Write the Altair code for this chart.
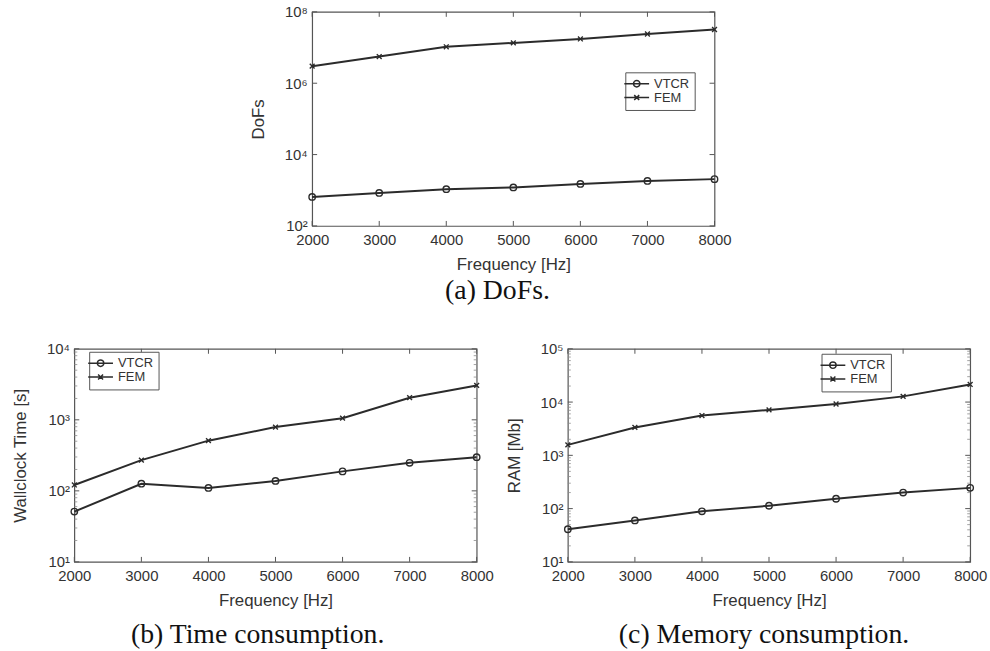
import altair as alt
import pandas as pd

# ---- data -------------------------------------------------------------
freq = [2000, 3000, 4000, 5000, 6000, 7000, 8000]
series = ["VTCR", "FEM"]

dofs_vtcr = [650, 840, 1070, 1200, 1500, 1820, 2050]
dofs_fem = [3.0e6, 5.6e6, 1.05e7, 1.35e7, 1.74e7, 2.4e7, 3.2e7]

time_vtcr = [51, 126, 110, 138, 188, 248, 298]
time_fem = [121, 271, 509, 790, 1055, 2050, 3050]

ram_vtcr = [41, 60, 89, 113, 153, 200, 245]
ram_fem = [1570, 3340, 5590, 7130, 9200, 12800, 21400]

x_ticks = [2000, 3000, 4000, 5000, 6000, 7000, 8000]
dofs_decades = [1e2, 1e4, 1e6, 1e8]
time_decades = [1e1, 1e2, 1e3, 1e4]
ram_decades = [1e1, 1e2, 1e3, 1e4, 1e5]

# ---- style ------------------------------------------------------------
INK = "#2b2b2b"
FRAME = "#555555"
TEXT = "#333333"
SANS = "Liberation Sans"
SERIF = "Liberation Serif"

MARK_SHAPES = ["circle", "M-0.75,-0.75L0.75,0.75M-0.75,0.75L0.75,-0.75"]
LEGEND_SHAPES = [
    "M-2.5,0L2.5,0M0.65,0A0.65,0.65 0 1 1 -0.65,0A0.65,0.65 0 1 1 0.65,0",
    "M-2.5,0L2.5,0M-0.5,-0.5L0.5,0.5M-0.5,0.5L0.5,-0.5",
]

SUP = ("'10' + substring('\u2070\u00b9\u00b2\u00b3\u2074\u2075\u2076\u2077\u2078\u2079', "
       "round(log(datum.value)/LN10), round(log(datum.value)/LN10) + 1)")


def minor_ticks(decades):
    out = []
    for d in decades[:-1]:
        out += [d * k for k in range(2, 10)]
    return out


def panel(vtcr, fem, decades, ytitle, caption, legend_pos, w, h,
          minor=True, caption_offset=6, caption_dx=0):
    df = pd.DataFrame({
        "Frequency": freq * 2,
        "Value": vtcr + fem,
        "Series": ["VTCR"] * len(freq) + ["FEM"] * len(freq),
    })
    x_df = pd.DataFrame({"Frequency": x_ticks})
    y_df = pd.DataFrame({"Value": decades})
    m_df = pd.DataFrame({"Value": minor_ticks(decades)})

    x = alt.X("Frequency:Q",
              scale=alt.Scale(domain=[2000, 8000], nice=False, zero=False),
              axis=alt.Axis(values=x_ticks, format="d", title="Frequency [Hz]",
                            ticks=False, domain=False, grid=False,
                            labelFlush=False, labelOverlap=False,
                            labelPadding=7, titlePadding=9,
                            labelFont=SANS, labelFontSize=15, labelColor=TEXT,
                            titleFont=SANS, titleFontSize=17, titleColor=TEXT,
                            titleFontWeight="normal"))
    y = alt.Y("Value:Q",
              scale=alt.Scale(type="log", domain=[decades[0], decades[-1]], nice=False),
              axis=alt.Axis(values=decades, labelExpr=SUP, title=ytitle,
                            ticks=False, domain=False, grid=False,
                            labelFlush=False, labelOverlap=False,
                            labelPadding=5, titlePadding=17,
                            labelFont=SANS, labelFontSize=15, labelColor=TEXT,
                            titleFont=SANS, titleFontSize=17, titleColor=TEXT,
                            titleFontWeight="normal"))

    line = alt.Chart(df).mark_line(color=INK, strokeWidth=2).encode(
        x=x, y=y, detail="Series:N")
    pts = alt.Chart(df).mark_point(filled=False, color=INK, strokeWidth=1.4,
                                   size=42, opacity=1).encode(
        x=x, y=y,
        shape=alt.Shape("Series:N",
                        scale=alt.Scale(domain=series, range=MARK_SHAPES),
                        legend=None))
    leg = alt.Chart(df).mark_point(filled=False, color=INK).encode(
        x=x, y=y,
        shape=alt.Shape("Series:N",
                        scale=alt.Scale(domain=series, range=LEGEND_SHAPES),
                        legend=alt.Legend(
                            title=None, orient="none",
                            legendX=legend_pos[0], legendY=legend_pos[1],
                            symbolSize=100, symbolStrokeColor=INK,
                            symbolFillColor="transparent",
                            symbolStrokeWidth=1.5, symbolOpacity=1,
                            labelFont=SANS, labelFontSize=13, labelColor=TEXT,
                            labelOffset=11, rowPadding=0, padding=5,
                            strokeColor=FRAME, fillColor="white"))
    ).transform_filter("false")

    tick = dict(color=FRAME, strokeWidth=1)
    xb = alt.Chart(x_df).mark_rule(**tick).encode(
        x=x, y=alt.value(h), y2=alt.value(h - 5))
    xt = alt.Chart(x_df).mark_rule(**tick).encode(
        x=x, y=alt.value(0), y2=alt.value(5))
    yl = alt.Chart(y_df).mark_rule(**tick).encode(
        y=y, x=alt.value(0), x2=alt.value(5))
    yr = alt.Chart(y_df).mark_rule(**tick).encode(
        y=y, x=alt.value(w), x2=alt.value(w - 5))
    layers = [xb, xt, yl, yr]
    if minor:
        mtick = dict(color="#8a8a8a", strokeWidth=0.8)
        layers += [
            alt.Chart(m_df).mark_rule(**mtick).encode(
                y=y, x=alt.value(0), x2=alt.value(3)),
            alt.Chart(m_df).mark_rule(**mtick).encode(
                y=y, x=alt.value(w), x2=alt.value(w - 3)),
        ]
    layers += [line, pts, leg]

    return alt.layer(*layers).resolve_scale(shape="independent").properties(
        width=w, height=h,
        view=alt.ViewBackground(stroke=FRAME, strokeWidth=1.2),
        title=alt.TitleParams(caption, orient="bottom", anchor="middle",
                              font=SERIF, fontSize=28, fontWeight="normal",
                              color="#111111", offset=caption_offset,
                              dx=caption_dx),
    )


panel_a = panel(dofs_vtcr, dofs_fem, dofs_decades, "DoFs", "(a) DoFs.",
                (316, 61), 406, 216, minor=False, caption_offset=5,
                caption_dx=-16)
panel_b = panel(time_vtcr, time_fem, time_decades, "Wallclock Time [s]",
                "(b) Time consumption.", (15, 3), 406, 215,
                caption_offset=13, caption_dx=-18)
panel_c = panel(ram_vtcr, ram_fem, ram_decades, "RAM [Mb]",
                "(c) Memory consumption.", (256, 5), 406, 215,
                caption_offset=13, caption_dx=-5)

spacer = alt.Chart(pd.DataFrame({"Frequency": [0]})).mark_point(opacity=0).encode(
    x=alt.X("Frequency:Q", axis=None), y=alt.Y("Frequency:Q", axis=None)
).properties(width=176, height=10, view=alt.ViewBackground(stroke=None))

top_row = alt.hconcat(spacer, panel_a, spacing=0)
bottom_row = alt.hconcat(panel_b, panel_c, spacing=10)

chart = alt.vconcat(top_row, bottom_row, spacing=35).properties(
    padding={"left": 11, "top": 1, "right": 2, "bottom": 2},
    background="white",
).configure_view(stroke=None)

chart.save("out.html", embed_options={"renderer": "svg", "actions": False})
